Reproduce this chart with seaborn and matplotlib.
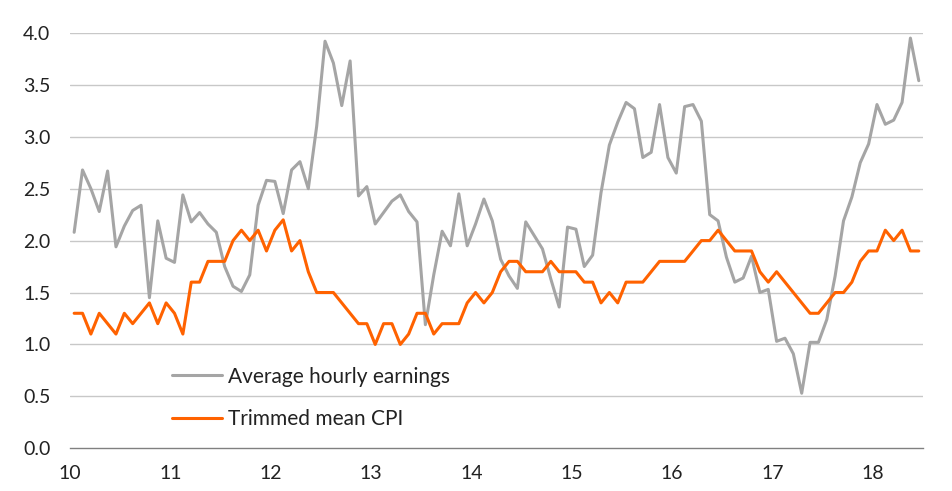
import numpy as np
import pandas as pd
import matplotlib
matplotlib.use("Agg")
import matplotlib.pyplot as plt
import seaborn as sns

# Monthly observations, Jan 2010 - Jun 2018
start_month = "2010-01"
n_months = 102

earnings = [
    2.08, 2.68, 2.50, 2.28, 2.67, 1.94, 2.14, 2.29, 2.34, 1.45, 2.19, 1.83,
    1.79, 2.44, 2.18, 2.27, 2.16, 2.08, 1.75, 1.56, 1.51, 1.67, 2.34, 2.58,
    2.57, 2.26, 2.68, 2.76, 2.50, 3.10, 3.92, 3.71, 3.30, 3.73, 2.43, 2.52,
    2.16, 2.27, 2.38, 2.44, 2.28, 2.18, 1.19, 1.67, 2.09, 1.95, 2.45, 1.95,
    2.16, 2.40, 2.19, 1.82, 1.66, 1.54, 2.18, 2.05, 1.92, 1.63, 1.36, 2.13,
    2.11, 1.75, 1.86, 2.46, 2.92, 3.14, 3.33, 3.27, 2.80, 2.85, 3.31, 2.80,
    2.65, 3.29, 3.31, 3.15, 2.25, 2.19, 1.84, 1.60, 1.64, 1.85, 1.50, 1.53,
    1.03, 1.06, 0.91, 0.53, 1.02, 1.02, 1.24, 1.66, 2.19, 2.42, 2.75, 2.93,
    3.31, 3.12, 3.16, 3.33, 3.95, 3.54,
]

trimmed_cpi = [
    1.3, 1.3, 1.1, 1.3, 1.2, 1.1, 1.3, 1.2, 1.3, 1.4, 1.2, 1.4,
    1.3, 1.1, 1.6, 1.6, 1.8, 1.8, 1.8, 2.0, 2.1, 2.0, 2.1, 1.9,
    2.1, 2.2, 1.9, 2.0, 1.7, 1.5, 1.5, 1.5, 1.4, 1.3, 1.2, 1.2,
    1.0, 1.2, 1.2, 1.0, 1.1, 1.3, 1.3, 1.1, 1.2, 1.2, 1.2, 1.4,
    1.5, 1.4, 1.5, 1.7, 1.8, 1.8, 1.7, 1.7, 1.7, 1.8, 1.7, 1.7,
    1.7, 1.6, 1.6, 1.4, 1.5, 1.4, 1.6, 1.6, 1.6, 1.7, 1.8, 1.8,
    1.8, 1.8, 1.9, 2.0, 2.0, 2.1, 2.0, 1.9, 1.9, 1.9, 1.7, 1.6,
    1.7, 1.6, 1.5, 1.4, 1.3, 1.3, 1.4, 1.5, 1.5, 1.6, 1.8, 1.9,
    1.9, 2.1, 2.0, 2.1, 1.9, 1.9,
]

series_names = ["Average hourly earnings", "Trimmed mean CPI"]
series_colors = ["#a5a5a5", "#ff6200"]
x_ticks = [10, 11, 12, 13, 14, 15, 16, 17, 18]
y_ticks = [0.0, 0.5, 1.0, 1.5, 2.0, 2.5, 3.0, 3.5, 4.0]

dates = pd.date_range(start_month, periods=n_months, freq="MS")
xpos = (dates.year - 2000) + (dates.month - 0.5) / 12.0

df = pd.concat([
    pd.DataFrame({"x": xpos, "value": earnings, "series": series_names[0]}),
    pd.DataFrame({"x": xpos, "value": trimmed_cpi, "series": series_names[1]}),
], ignore_index=True)

sns.set_theme(style="white")
plt.rcParams["font.family"] = ["Lato", "DejaVu Sans"]

fig = plt.figure(figsize=(9.52, 4.91), dpi=100)
ax = fig.add_axes([0.0735, 0.087, 0.896, 0.846])

for y in y_ticks[1:]:
    ax.axhline(y, color="#c8c8c8", lw=1.0, zorder=0)

sns.lineplot(data=df, x="x", y="value", hue="series",
             palette=dict(zip(series_names, series_colors)),
             linewidth=2.2, ax=ax, legend=True)

ax.set_xlim(10, 18.5)
ax.set_ylim(0, 4.0)
ax.set_xticks(x_ticks)
ax.set_xticklabels([str(t) for t in x_ticks])
ax.set_yticks(y_ticks)
ax.set_yticklabels([f"{t:.1f}" for t in y_ticks])
ax.set_xlabel("")
ax.set_ylabel("")

for s in ["top", "right", "left"]:
    ax.spines[s].set_visible(False)
ax.spines["bottom"].set_color("#808080")
ax.spines["bottom"].set_linewidth(1.0)

ax.tick_params(axis="x", which="major", direction="out", length=6, width=1,
               color="#808080", labelsize=14, labelcolor="#222222", pad=6)
ax.tick_params(axis="y", which="major", length=0, labelsize=14,
               labelcolor="#222222", pad=14)

leg = ax.legend(loc="center left", bbox_to_anchor=(0.1196, 0.121),
                frameon=False, fontsize=15, handlelength=2.4,
                handletextpad=0.3, labelspacing=1.1, borderpad=0,
                borderaxespad=0)
for h in leg.get_lines():
    h.set_linewidth(2.2)
for t in leg.get_texts():
    t.set_color("#222222")

fig.savefig("out.png", dpi=100)
